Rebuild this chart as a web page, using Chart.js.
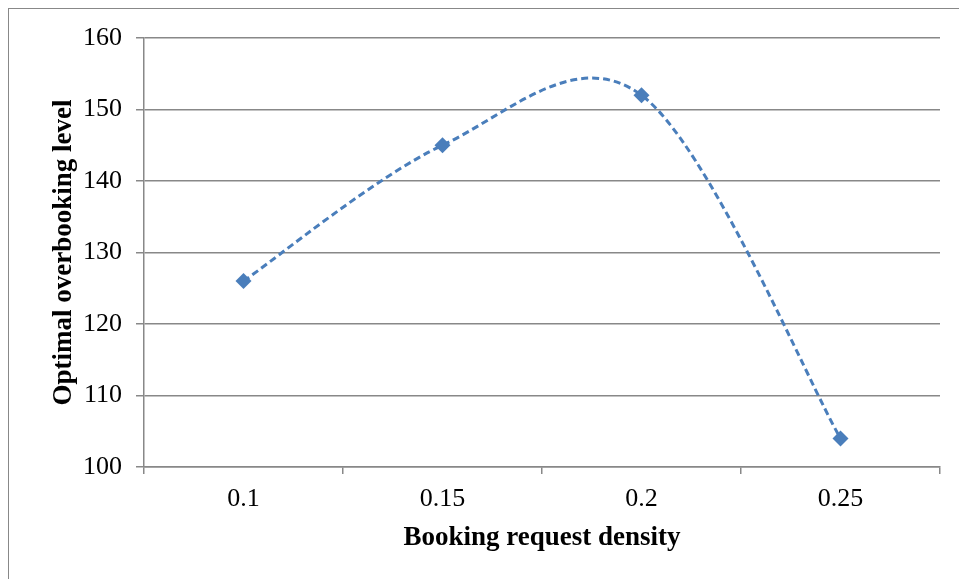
<!DOCTYPE html>
<html>
<head>
<meta charset="utf-8">
<script src="https://cdn.jsdelivr.net/npm/chart.js@4/dist/chart.umd.min.js"></script>
<style>
  html, body { margin: 0; padding: 0; background: #fff; }
  #wrap { position: relative; width: 959px; height: 579px; overflow: hidden; }
  #frame { position: absolute; left: 8px; top: 8px; width: 980px; height: 600px; border: 1px solid #888; box-sizing: border-box; }
  canvas { position: absolute; left: 0; top: 0; }
</style>
</head>
<body>
<div id="wrap">
  <div id="frame"></div>
  <canvas id="c" width="959" height="579"></canvas>
</div>
<script>
const categories = ['0.1', '0.15', '0.2', '0.25'];
const overbookingLevel = [126, 145, 152, 104];
const yTicks = [100, 110, 120, 130, 140, 150, 160];
const xTitle = 'Booking request density';
const yTitle = 'Optimal overbooking level';

const gray = '#888888';
const blue = '#4A7EBB';

// Excel-style smoothing (Catmull-Rom, 1/6 control points) applied to the library-computed point positions
const excelSmooth = {
  id: 'excelSmooth',
  beforeDatasetsDraw(chart) {
    const meta = chart.getDatasetMeta(0);
    const line = meta.dataset;
    if (line && line.updateControlPoints) line.updateControlPoints(chart.chartArea, 'x');
    const pts = meta.data;
    for (let i = 0; i < pts.length; i++) {
      const p = pts[i];
      const prev = pts[i - 1] || p;
      const next = pts[i + 1] || p;
      const dx = (next.x - prev.x) / 6;
      const dy = (next.y - prev.y) / 6;
      p.cp1x = p.x - dx; p.cp1y = p.y - dy;
      p.cp2x = p.x + dx; p.cp2y = p.y + dy;
    }
  }
};

new Chart(document.getElementById('c'), {
  type: 'line',
  data: {
    labels: categories,
    datasets: [{
      data: overbookingLevel,
      borderColor: blue,
      backgroundColor: blue,
      borderWidth: 3,
      borderDash: [7, 4],
      tension: 0.4,
      pointStyle: 'rectRot',
      pointRadius: 8,
      pointBorderWidth: 0,
      pointBackgroundColor: blue,
      fill: false
    }]
  },
  options: {
    responsive: false,
    animation: false,
    devicePixelRatio: 1,
    layout: { padding: { left: 48, top: 38, right: 19, bottom: 25 } },
    plugins: { legend: { display: false }, tooltip: { enabled: false } },
    scales: {
      x: {
        type: 'category',
        offset: true,
        grid: { display: true, offset: true, drawOnChartArea: false, drawTicks: true, tickLength: 7, color: gray, lineWidth: 1.5 },
        border: { display: true, color: gray, width: 1.5 },
        ticks: { color: '#000', font: { family: 'Liberation Serif', size: 26 }, padding: 10 },
        title: { display: true, text: xTitle, color: '#000', font: { family: 'Liberation Serif', size: 27, weight: 'bold' }, padding: { top: 4, bottom: 0 } },
        afterFit(s) { s.height = 87; }
      },
      y: {
        min: 100, max: 160,
        afterBuildTicks(s) { s.ticks = yTicks.map(v => ({ value: v })); },
        grid: { color: gray, lineWidth: 1.5, drawTicks: true, tickLength: 8 },
        border: { display: true, color: gray, width: 1.5 },
        ticks: { color: '#000', font: { family: 'Liberation Serif', size: 26 }, padding: 14 },
        title: { display: true, text: yTitle, color: '#000', font: { family: 'Liberation Serif', size: 27, weight: 'bold' }, padding: { top: 0, bottom: 8 } },
        afterFit(s) { s.width = 96; }
      }
    }
  },
  plugins: [excelSmooth]
});
</script>
</body>
</html>
